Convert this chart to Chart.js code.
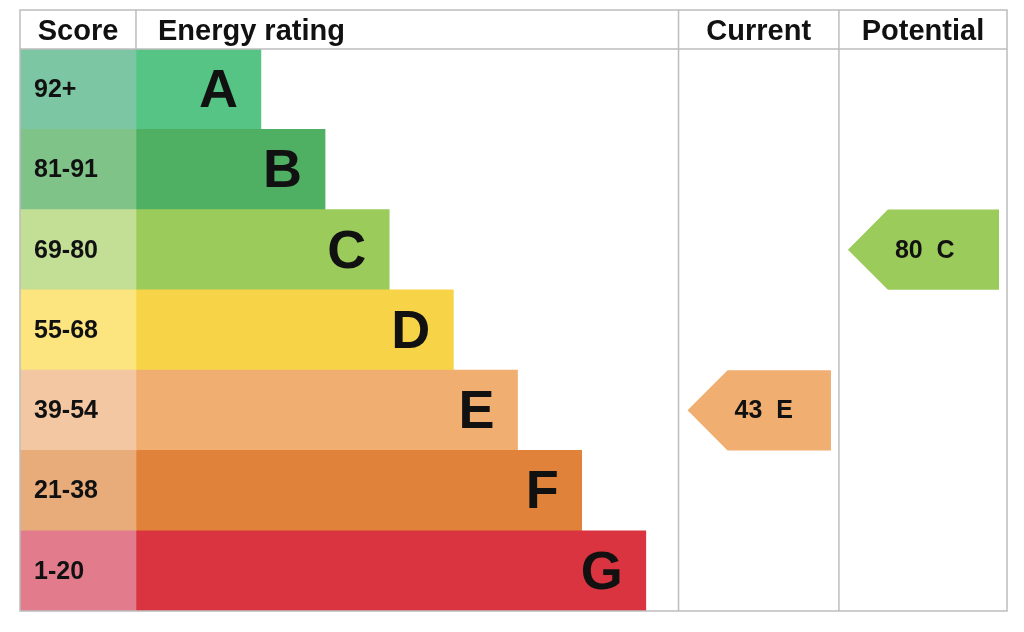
<!DOCTYPE html>
<html><head><meta charset="utf-8">
<script src="https://cdn.jsdelivr.net/npm/chart.js"></script>
<style>body{margin:0;background:#fff}</style></head>
<body><canvas id="c" width="1024" height="632"></canvas>
<script>
const bands = ['A','B','C','D','E','F','G'];
const scores = ['92+','81-91','69-80','55-68','39-54','21-38','1-20'];
const ranks = [1,2,3,4,5,6,7];
const barColors = ['#55c484','#4fb063','#9bcb5a','#f7d447','#f0ae70','#e0823a','#d9343f'];
const scoreColors = ['#7dc6a4','#7fc389','#c2df95','#fce47f','#f3c7a2','#e8ac7b','#e27b8b'];
const headers = ['Score','Energy rating','Current','Potential'];
const current = {value:43, band:'E', color:'#f0ae70'};
const potential = {value:80, band:'C', color:'#9bcb5a'};
// column boundaries in band units
const COL = {left:-2.755, score:-0.947, cur:7.51, pot:10.01, right:12.63};

const plugin = {
  id:'epc',
  afterDatasetsDraw(chart){
    const {ctx, chartArea:a, scales:{x,y}} = chart;
    const px = v => x.getPixelForValue(v);
    const rowH = (a.bottom-a.top)/bands.length;
    ctx.save();
    // grid lines
    ctx.strokeStyle='#bdbdbd'; ctx.lineWidth=1.5;
    ctx.strokeRect(a.left, 10, a.right-a.left, a.bottom-10);
    ctx.beginPath();
    ctx.moveTo(a.left,a.top); ctx.lineTo(a.right,a.top);
    [COL.score,COL.cur,COL.pot].forEach((v,i)=>{
      ctx.moveTo(px(v),10); ctx.lineTo(px(v), i===0?a.top:a.bottom);
    });
    ctx.stroke();
    // headers
    ctx.fillStyle='#111'; ctx.font='bold 29px "Liberation Sans", Arial'; ctx.textBaseline='middle';
    const hy = (10+a.top)/2+2;
    ctx.textAlign='center';
    ctx.fillText(headers[0], (px(COL.left)+px(COL.score))/2, hy);
    ctx.textAlign='left';
    ctx.fillText(headers[1], px(COL.score)+22, hy);
    ctx.textAlign='center';
    ctx.fillText(headers[2], (px(COL.cur)+px(COL.pot))/2, hy);
    ctx.fillText(headers[3], (px(COL.pot)+px(COL.right))/2, hy);
    // scores and letters
    bands.forEach((b,i)=>{
      const cy = y.getPixelForValue(i);
      ctx.font='bold 25px "Liberation Sans", Arial'; ctx.textAlign='left';
      ctx.fillText(scores[i], px(COL.left)+14, cy+1);
      ctx.font='bold 54px "Liberation Sans", Arial'; ctx.textAlign='right';
      ctx.fillText(b, px(ranks[i])-23, cy+3);
    });
    // arrows
    const arrow = (r, l, rt) => {
      const i = bands.indexOf(r.band);
      const cy = y.getPixelForValue(i);
      const t = cy-rowH/2, bt = cy+rowH/2;
      const x0 = l+9, x1 = rt-8;
      ctx.fillStyle=r.color;
      ctx.beginPath(); ctx.moveTo(x0,cy); ctx.lineTo(x0+40,t); ctx.lineTo(x1,t);
      ctx.lineTo(x1,bt); ctx.lineTo(x0+40,bt); ctx.closePath(); ctx.fill();
      ctx.fillStyle='#111'; ctx.font='bold 25px "Liberation Sans", Arial'; ctx.textAlign='left';
      ctx.fillText(r.value+'  '+r.band, x0+47, cy+1);
    };
    arrow(current, px(COL.cur), px(COL.pot));
    arrow(potential, px(COL.pot), px(COL.right));
    ctx.restore();
  }
};

new Chart(document.getElementById('c'), {
  type:'bar',
  data:{labels:bands, datasets:[
    {data:bands.map(()=>[COL.left,COL.score]), backgroundColor:scoreColors, grouped:false, barPercentage:1, categoryPercentage:1},
    {data:ranks, base:COL.score, backgroundColor:barColors, grouped:false, barPercentage:1, categoryPercentage:1}
  ]},
  options:{
    indexAxis:'y', responsive:false, animation:false,
    layout:{padding:{left:20,right:17,top:49,bottom:21}},
    plugins:{legend:{display:false}, tooltip:{enabled:false}},
    scales:{
      x:{type:'linear', min:COL.left, max:COL.right, display:false},
      y:{display:false}
    }
  },
  plugins:[plugin]
});
</script></body></html>
